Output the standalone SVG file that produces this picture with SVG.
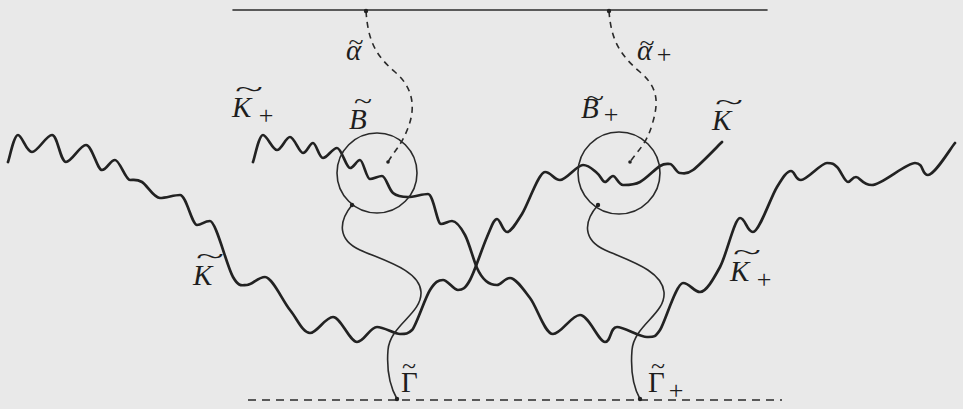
<svg xmlns="http://www.w3.org/2000/svg" width="963" height="409" viewBox="0 0 963 409">
<style>
.bg{fill:#e9e9e9}
.wave{fill:none;stroke:#222;stroke-width:2.7;stroke-linecap:round;stroke-linejoin:round}
.thin{fill:none;stroke:#2a2a2a;stroke-width:1.6;stroke-linecap:round}
.dash{fill:none;stroke:#2a2a2a;stroke-width:1.6;stroke-dasharray:6 5}
.bdash{fill:none;stroke:#2a2a2a;stroke-width:1.6;stroke-dasharray:8 6}
.dot{fill:#222}
.lbl{font-family:"Liberation Serif","DejaVu Serif",serif;font-size:29px;font-style:italic;fill:#1e1e1e}
.up{font-style:normal}
.sub{font-size:26px;font-style:normal;text-anchor:middle}
.til{font-size:24px;font-style:normal}
</style>
<rect class="bg" x="0" y="0" width="963" height="409"/>
<g id="boundaries">
<line class="thin" x1="233" y1="10" x2="767" y2="10"/>
<line class="bdash" x1="248" y1="400" x2="782" y2="400"/>
</g>
<g id="connectors">
<path id="curve-K" class="wave" d="M8,162 C9.7,157.5 14,135 18,135 S26.3,152 32,152 S46.3,135 52,135 S60.3,162 66,162 S80,145 86,145 S97.2,170 102,170 S110.3,160 115,160 S125.5,180 130,180 S137,179 142,182 S153.7,198 160,198 S173.8,195 180,195 S192,225 197,225 S204,221 210,221 S226.8,266.3 233,277 S241.7,285 247,285 S257.8,277 265,277 S282.5,300.7 290,310 S302.8,333 310,333 S325.2,317 333,317 S349.7,342 357,342 S369.8,327 377,327 S394.2,334 400,334 S408,334 412,330 S424.8,298.3 430,290 S438.3,280 443,280 S453.5,290 458,290 S465.2,288.8 470,280 S482.5,247.2 487,237 S493.7,219 497,219 S502.8,232 507,232 S515.7,224 522,214 S538.7,172 545,172 S553.7,180 560,180 S576.8,165 583,165 S593.3,170.2 597,173 S602.3,182 605,182 S610,176 613,176 S618.5,185 623,185 S633.8,185.2 640,182 S655,169 660,166 S666.7,164 670,164 S676.2,173 680,173 S686,175.2 693,170 S717.2,146.7 722,142"/>
<path id="curve-Kplus" class="wave" d="M253,162 C254.7,157.5 259,135 263,135 S272.5,150 277,150 S285.7,137 290,137 S299.2,153 303,153 S309.7,143 313,143 S319,158 323,158 S332.5,148 337,148 S346.2,168 350,168 S356.7,160 360,160 S366.3,179 370,179 S378.2,176 382,176 S388.7,189.5 393,193 S402.2,197 408,197 S422.5,194 428,194 S437,224 441,224 S448,221 452,221 S460.8,227.2 465,235 S473.5,260.3 477,268 S482.7,278.2 486,281 S493,285 497,285 S504.5,278 510,278 S522.8,288.7 530,298 S544.7,334 553,334 S571.3,315 580,315 S598.8,342 605,342 S610,327 617,327 S639.8,337 647,337 S655,337.5 660,330 S676.3,283 683,283 S693.8,292 700,292 S713.3,279.3 720,267 S734.5,218 740,218 S746.8,232 753,232 S770.7,197.2 777,187 S787,171 791,171 S795,180 801,180 S821,163 827,163 S833.5,163.8 837,167 S844.8,182 848,182 S852,177 856,177 S862.2,185 872,185 S905.7,163 915,163 S921.3,175 928,175 S950.5,148.3 955,143"/>
<path id="gamma" class="thin" d="M352,205 C338,222 338,240 360,250 S420,270 421,292 S390,325 388,350 S392,390 397,399"/>
<path id="gamma-plus" class="thin" d="M598,205 C583,222 583,240 605,250 S662,270 664,292 S634,325 632,350 S635,390 640,399"/>
<path id="alpha" class="dash" d="M366,11 C368,40 375,55 395,72 S415,110 408,128 S395,150 388,162"/>
<path id="alpha-plus" class="dash" d="M609,11 C611,40 620,55 640,72 S658,105 652,125 S638,150 630,162"/>
</g>
<g id="node-B">
<circle class="thin" cx="377" cy="173" r="40"/>
</g>
<g id="node-Bplus">
<circle class="thin" cx="619" cy="173" r="41"/>
</g>
<g id="dots">
<circle class="dot" cx="366" cy="11" r="2.2"/>
<circle class="dot" cx="609" cy="11" r="2.2"/>
<circle class="dot" cx="388" cy="162" r="1.8"/>
<circle class="dot" cx="630" cy="162" r="1.8"/>
<circle class="dot" cx="352" cy="205" r="2.2"/>
<circle class="dot" cx="598" cy="205" r="2.2"/>
<circle class="dot" cx="397" cy="399" r="2.2"/>
<circle class="dot" cx="640" cy="399" r="2.2"/>
</g>
<g id="labels">
<text class="lbl" x="346" y="60">α<tspan class="til" x="348.5" y="49.5" textLength="15" lengthAdjust="spacingAndGlyphs">~</tspan></text>
<text class="lbl" x="637" y="60">α<tspan class="til" x="639.5" y="50.5" textLength="15" lengthAdjust="spacingAndGlyphs">~</tspan><tspan class="sub" x="664" y="63">+</tspan></text>
<text class="lbl" x="232" y="117">K<tspan class="til" x="235" y="96.5" textLength="28" lengthAdjust="spacingAndGlyphs">~</tspan><tspan class="sub" x="266" y="124">+</tspan></text>
<text class="lbl" x="349" y="129">B<tspan class="til" x="354" y="108.5" textLength="18" lengthAdjust="spacingAndGlyphs">~</tspan></text>
<text class="lbl" x="581" y="118">B<tspan class="til" x="586" y="105.5" textLength="18" lengthAdjust="spacingAndGlyphs">~</tspan><tspan class="sub" x="611" y="123">+</tspan></text>
<text class="lbl" x="712" y="130">K<tspan class="til" x="715" y="109.5" textLength="28" lengthAdjust="spacingAndGlyphs">~</tspan></text>
<text class="lbl" x="193" y="285">K<tspan class="til" x="196" y="263.5" textLength="28" lengthAdjust="spacingAndGlyphs">~</tspan></text>
<text class="lbl" x="730" y="281">K<tspan class="til" x="733" y="259.5" textLength="28" lengthAdjust="spacingAndGlyphs">~</tspan><tspan class="sub" x="764" y="288">+</tspan></text>
<text class="lbl up" x="401" y="392">Γ<tspan class="til" x="402" y="373.5" textLength="14" lengthAdjust="spacingAndGlyphs">~</tspan></text>
<text class="lbl up" x="648" y="392">Γ<tspan class="til" x="651" y="373.5" textLength="14" lengthAdjust="spacingAndGlyphs">~</tspan><tspan class="sub" x="676" y="399">+</tspan></text>
</g>
</svg>
